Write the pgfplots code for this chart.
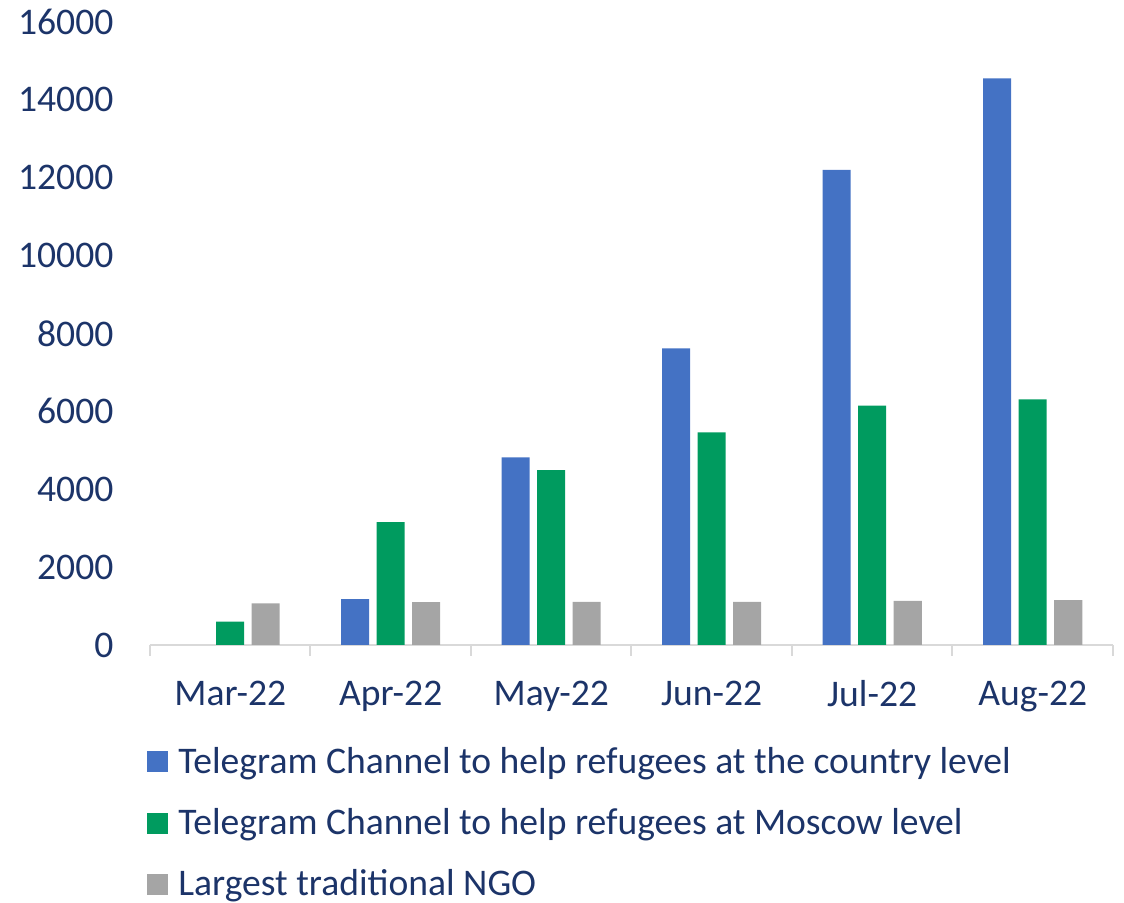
\documentclass[border=0pt]{standalone}
\usepackage{pgfplots}
\pgfplotsset{compat=1.18}
\usepackage{fontspec}
\setmainfont{Carlito}
\definecolor{txt}{RGB}{28,52,105}
\definecolor{cblue}{RGB}{68,114,196}
\definecolor{cgreen}{RGB}{0,155,95}
\definecolor{cgray}{RGB}{165,165,165}
\definecolor{axgray}{RGB}{217,217,217}
\begin{document}
\begin{tikzpicture}
\begin{axis}[
  scale only axis,
  width=481.5pt, height=311.5pt,
  xmin=-0.5, xmax=5.5,
  ymin=0, ymax=16000,
  scaled y ticks=false,
  ybar=3.75pt, bar width=14pt,
  xtick={0,1,2,3,4,5},
  xticklabels={Mar-22,Apr-22,May-22,Jun-22,Jul-22,Aug-22},
  minor xtick={-0.5,0.5,1.5,2.5,3.5,4.5,5.5},
  major x tick style={draw=none},
  minor x tick style={draw=axgray, line width=1pt},
  minor tick length=5.5pt,
  tick align=outside,
  ytick={0,2000,4000,6000,8000,10000,12000,14000,16000},
  ytick style={draw=none},
  axis x line*=bottom,
  axis y line*=left,
  y axis line style={draw=none},
  x axis line style={draw=axgray, line width=1pt},
  /pgf/number format/assume math mode=true,
  /pgf/number format/1000 sep={},
  tick label style={font=\fontsize{18.8}{22}\selectfont, text=txt},
  yticklabel style={xshift=-10.5pt},
  xticklabel style={yshift=-10pt},
  legend style={at={(rel axis cs:0,0)}, anchor=north west, yshift=-49pt, xshift=-1.5pt,
    draw=none, fill=none, inner sep=0pt, row sep=12pt,
    font=\fontsize{18.8}{22}\selectfont, text=txt,
    /tikz/every odd column/.append style={column sep=3pt}},
  legend cell align=left,
  legend image code/.code={\fill[#1] (-1.5pt,-5.25pt) rectangle (9pt,5.25pt);},
  clip=false,
]
\addplot[fill=cblue, draw=none] coordinates {(1,1180) (2,4820) (3,7615) (4,12205) (5,14555)};
\addplot[fill=cgreen, draw=none] coordinates {(0,600) (1,3155) (2,4490) (3,5460) (4,6150) (5,6310)};
\addplot[fill=cgray, draw=none] coordinates {(0,1070) (1,1100) (2,1110) (3,1110) (4,1130) (5,1150)};
\legend{Telegram Channel to help refugees at the country level,
        Telegram Channel to help refugees at Moscow level,
        Largest traditional NGO}
\coordinate (sw) at (rel axis cs:0,0);
\end{axis}
\pgfresetboundingbox
\path ([shift={(-75pt,-129pt)}]sw) rectangle ([shift={(487pt,322.5pt)}]sw);
\end{tikzpicture}
\end{document}
